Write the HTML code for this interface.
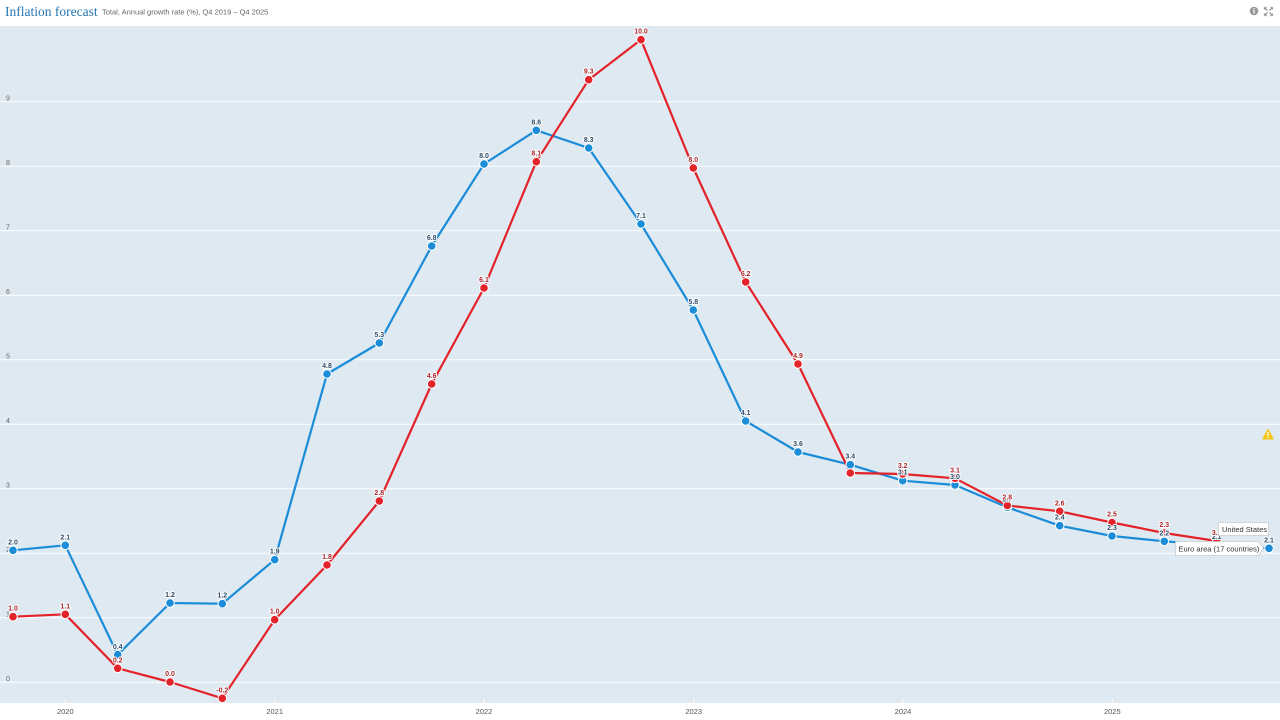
<!DOCTYPE html>
<html>
<head>
<meta charset="utf-8">
<style>
  html,body{margin:0;padding:0;background:#fff;}
  body{width:1280px;height:720px;overflow:hidden;}
  svg{display:block;}
  .yl{font-family:"Liberation Sans",sans-serif;font-size:7px;fill:#666;}
  .xl{font-family:"Liberation Sans",sans-serif;font-size:7.5px;fill:#555;}
  .lb{font-family:"Liberation Sans",sans-serif;font-size:7px;font-weight:bold;paint-order:stroke;stroke:#fff;stroke-width:2px;stroke-linejoin:round;text-anchor:middle;}
  .lbb{fill:#2c4a68;}
  .lbr{fill:#a8262b;}
  .tt{font-family:"Liberation Sans",sans-serif;font-size:7.5px;fill:#333;}
</style>
</head>
<body>
<svg width="1280" height="720" viewBox="0 0 1280 720" xmlns="http://www.w3.org/2000/svg">
  <rect x="0" y="0" width="1280" height="720" fill="#fff"/>
  <!-- title -->
  <text x="5" y="16" font-family="Liberation Serif, serif" font-size="13.5" fill="#2475b0">Inflation forecast</text>
  <text x="102" y="14.5" font-family="Liberation Sans, sans-serif" font-size="7.5" fill="#666">Total, Annual growth rate (%), Q4 2019 – Q4 2025</text>
  <!-- icons -->
  <circle cx="1254" cy="11" r="4.3" fill="#999"/>
  <rect x="1253.4" y="9.8" width="1.2" height="3.6" fill="#fff"/>
  <rect x="1253.4" y="8" width="1.2" height="1.1" fill="#fff"/>
  <g stroke="#999" stroke-width="1.3" fill="none">
    <path d="M1264.5 7.5 l3 3 M1264.5 7.5 h2 M1264.5 7.5 v2"/>
    <path d="M1272.5 7.5 l-3 3 M1272.5 7.5 h-2 M1272.5 7.5 v2"/>
    <path d="M1264.5 15.5 l3 -3 M1264.5 15.5 h2 M1264.5 15.5 v-2"/>
    <path d="M1272.5 15.5 l-3 -3 M1272.5 15.5 h-2 M1272.5 15.5 v-2"/>
  </g>

  <!-- plot area -->
  <rect x="0" y="26" width="1280" height="677" fill="#dee9f1"/>

  <!-- gridlines -->
  <g stroke="#fff" stroke-width="1">
    <line x1="0" x2="1280" y1="682.3" y2="682.3"/>
    <line x1="0" x2="1280" y1="617.8" y2="617.8"/>
    <line x1="0" x2="1280" y1="553.3" y2="553.3"/>
    <line x1="0" x2="1280" y1="488.8" y2="488.8"/>
    <line x1="0" x2="1280" y1="424.3" y2="424.3"/>
    <line x1="0" x2="1280" y1="359.8" y2="359.8"/>
    <line x1="0" x2="1280" y1="295.3" y2="295.3"/>
    <line x1="0" x2="1280" y1="230.8" y2="230.8"/>
    <line x1="0" x2="1280" y1="166.3" y2="166.3"/>
    <line x1="0" x2="1280" y1="101.8" y2="101.8"/>
  </g>
  <!-- y labels -->
  <g class="yl">
    <text x="6" y="681">0</text>
    <text x="6" y="616.5">1</text>
    <text x="6" y="552">2</text>
    <text x="6" y="487.5">3</text>
    <text x="6" y="423">4</text>
    <text x="6" y="358.5">5</text>
    <text x="6" y="294">6</text>
    <text x="6" y="229.5">7</text>
    <text x="6" y="165">8</text>
    <text x="6" y="100.5">9</text>
  </g>

  <!-- x ticks -->
  <g stroke="#fff" stroke-width="1">
    <line x1="65.3" x2="65.3" y1="699" y2="703"/>
    <line x1="274.7" x2="274.7" y1="699" y2="703"/>
    <line x1="484" x2="484" y1="699" y2="703"/>
    <line x1="693.7" x2="693.7" y1="699" y2="703"/>
    <line x1="903" x2="903" y1="699" y2="703"/>
    <line x1="1112.3" x2="1112.3" y1="699" y2="703"/>
  </g>
  <g class="xl" text-anchor="middle">
    <text x="65.3" y="714">2020</text>
    <text x="274.7" y="714">2021</text>
    <text x="484" y="714">2022</text>
    <text x="693.7" y="714">2023</text>
    <text x="903" y="714">2024</text>
    <text x="1112.3" y="714">2025</text>
  </g>

  <!-- warning icon -->
  <path d="M1268 429.5 L1273.3 439 L1262.7 439 Z" fill="#f5c518" stroke="#f5c518" stroke-width="1" stroke-linejoin="round"/>
  <rect x="1267.4" y="432" width="1.2" height="4" fill="#fff"/>
  <rect x="1267.4" y="437" width="1.2" height="1" fill="#fff"/>

  <!-- Euro area (blue) -->
  <polyline fill="none" stroke="#1a8cd8" stroke-width="2.2" stroke-linejoin="round"
    points="13,550.3 65.3,545.3 117.7,654.7 170,603 222.3,603.7 274.7,559.7 327,374 379.3,343 431.7,246 484,164 536.3,130.3 588.7,148 641,224 693.3,310 745.7,421 798,452 850.3,464.7 902.7,480.7 955,485 1007.3,507.3 1059.7,525.7 1112,536 1164.3,541.3 1216.7,545 1269,548.3"/>
  <!-- United States (red) -->
  <polyline fill="none" stroke="#e3222a" stroke-width="2.2" stroke-linejoin="round"
    points="13,616.7 65.3,614.3 117.7,668.3 170,682 222.3,698.3 274.7,619.7 327,565 379.3,501 431.7,384 484,288 536.3,161.7 588.7,79.7 641,39.7 693.3,168 745.7,282 798,364 850.3,473 902.7,474 955,478.3 1007.3,505.5 1059.7,511.3 1112,522.5 1164.3,533 1216.7,541"/>

  <!-- blue markers -->
  <g fill="#1a8cd8" stroke="#fff" stroke-width="1">
    <circle cx="13" cy="550.3" r="4.3"/><circle cx="65.3" cy="545.3" r="4.3"/><circle cx="117.7" cy="654.7" r="4.3"/>
    <circle cx="170" cy="603" r="4.3"/><circle cx="222.3" cy="603.7" r="4.3"/><circle cx="274.7" cy="559.7" r="4.3"/>
    <circle cx="327" cy="374" r="4.3"/><circle cx="379.3" cy="343" r="4.3"/><circle cx="431.7" cy="246" r="4.3"/>
    <circle cx="484" cy="164" r="4.3"/><circle cx="536.3" cy="130.3" r="4.3"/><circle cx="588.7" cy="148" r="4.3"/>
    <circle cx="641" cy="224" r="4.3"/><circle cx="693.3" cy="310" r="4.3"/><circle cx="745.7" cy="421" r="4.3"/>
    <circle cx="798" cy="452" r="4.3"/><circle cx="850.3" cy="464.7" r="4.3"/><circle cx="902.7" cy="480.7" r="4.3"/>
    <circle cx="955" cy="485" r="4.3"/><circle cx="1007.3" cy="507.3" r="4.3"/><circle cx="1059.7" cy="525.7" r="4.3"/>
    <circle cx="1112" cy="536" r="4.3"/><circle cx="1164.3" cy="541.3" r="4.3"/><circle cx="1216.7" cy="545" r="4.3"/>
    <circle cx="1269" cy="548.3" r="4.3"/>
  </g>
  <!-- red markers -->
  <g fill="#e3222a" stroke="#fff" stroke-width="1">
    <circle cx="13" cy="616.7" r="4.3"/><circle cx="65.3" cy="614.3" r="4.3"/><circle cx="117.7" cy="668.3" r="4.3"/>
    <circle cx="170" cy="682" r="4.3"/><circle cx="222.3" cy="698.3" r="4.3"/><circle cx="274.7" cy="619.7" r="4.3"/>
    <circle cx="327" cy="565" r="4.3"/><circle cx="379.3" cy="501" r="4.3"/><circle cx="431.7" cy="384" r="4.3"/>
    <circle cx="484" cy="288" r="4.3"/><circle cx="536.3" cy="161.7" r="4.3"/><circle cx="588.7" cy="79.7" r="4.3"/>
    <circle cx="641" cy="39.7" r="4.3"/><circle cx="693.3" cy="168" r="4.3"/><circle cx="745.7" cy="282" r="4.3"/>
    <circle cx="798" cy="364" r="4.3"/><circle cx="850.3" cy="473" r="4.3"/><circle cx="902.7" cy="474" r="4.3"/>
    <circle cx="955" cy="478.3" r="4.3"/><circle cx="1007.3" cy="505.5" r="4.3"/><circle cx="1059.7" cy="511.3" r="4.3"/>
    <circle cx="1112" cy="522.5" r="4.3"/><circle cx="1164.3" cy="533" r="4.3"/><circle cx="1216.7" cy="541" r="4.3"/>
  </g>

  <!-- blue labels -->
  <g class="lb lbb">
    <text x="13" y="544.5">2.0</text><text x="65.3" y="539.5">2.1</text><text x="117.7" y="649">0.4</text>
    <text x="170" y="597">1.2</text><text x="222.3" y="597.5">1.2</text><text x="274.7" y="553.5">1.9</text>
    <text x="327" y="368">4.8</text><text x="379.3" y="337">5.3</text><text x="431.7" y="240">6.8</text>
    <text x="484" y="158">8.0</text><text x="536.3" y="124.3">8.6</text><text x="588.7" y="142">8.3</text>
    <text x="641" y="218">7.1</text><text x="693.3" y="304">5.8</text><text x="745.7" y="415">4.1</text>
    <text x="798" y="446">3.6</text><text x="850.3" y="458.7">3.4</text><text x="902.7" y="474.7">3.1</text>
    <text x="955" y="479">3.0</text><text x="1007.3" y="501.3">2.7</text><text x="1059.7" y="519.7">2.4</text>
    <text x="1112" y="530">2.3</text><text x="1164.3" y="535.3">2.2</text><text x="1216.7" y="539">2.1</text>
    <text x="1269" y="542.3">2.1</text>
  </g>
  <!-- red labels -->
  <g class="lb lbr">
    <text x="13" y="610.7">1.0</text><text x="65.3" y="608.3">1.1</text><text x="117.7" y="662.3">0.2</text>
    <text x="170" y="676">0.0</text><text x="222.3" y="692.3">-0.2</text><text x="274.7" y="613.7">1.0</text>
    <text x="327" y="559">1.8</text><text x="379.3" y="495">2.8</text><text x="431.7" y="378">4.6</text>
    <text x="484" y="282">6.1</text><text x="536.3" y="155.7">8.1</text><text x="588.7" y="73.7">9.3</text>
    <text x="641" y="33.7">10.0</text><text x="693.3" y="162">8.0</text><text x="745.7" y="276">6.2</text>
    <text x="798" y="358">4.9</text><text x="902.7" y="468">3.2</text>
    <text x="955" y="472.3">3.1</text><text x="1007.3" y="499.5">2.8</text><text x="1059.7" y="505.3">2.6</text>
    <text x="1112" y="516.5">2.5</text><text x="1164.3" y="527">2.3</text><text x="1216.7" y="535">3.1</text>
  </g>

  <!-- end labels -->
  <g>
    <path d="M1218.5 522.5 H1268.5 V535.5 H1218.5 Z" fill="#fff" stroke="#ccc" stroke-width="0.8"/>
    <text class="tt" x="1222" y="532">United States</text>
    <path d="M1175.5 541.5 H1258.5 L1263.5 548 L1258.5 555.5 H1175.5 Z" fill="#fff" stroke="#ccc" stroke-width="0.8"/>
    <text class="tt" x="1178.5" y="551.3">Euro area (17 countries)</text>
  </g>
</svg>
</body>
</html>
